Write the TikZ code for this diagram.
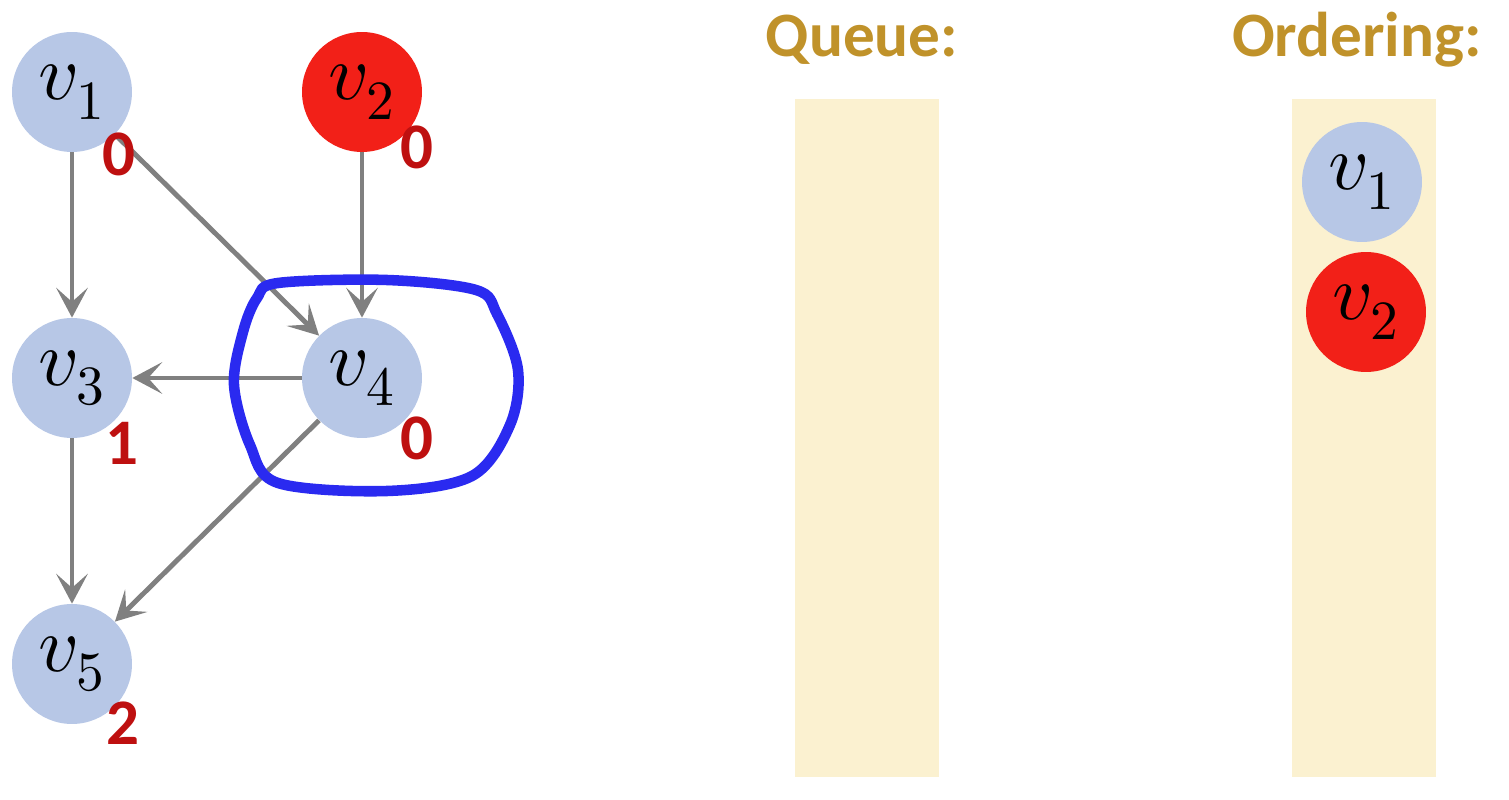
\documentclass[tikz,border=0pt]{standalone}
\usepackage{fontspec}
\usepackage{unicode-math}
\setmathfont{Latin Modern Math}
\setsansfont{Carlito}
\usetikzlibrary{arrows.meta}
\definecolor{nodeblue}{RGB}{183,199,230}
\definecolor{nodered}{RGB}{242,32,24}
\definecolor{degred}{RGB}{190,16,16}
\definecolor{edgegray}{RGB}{128,128,128}
\definecolor{titlegold}{RGB}{192,146,42}
\definecolor{boxcream}{RGB}{251,241,208}
\definecolor{loopblue}{RGB}{42,42,240}
\begin{document}
\begin{tikzpicture}[x=0.02cm,y=-0.02cm,
  vert/.style={circle,minimum size=2.4cm,inner sep=0pt,fill=nodeblue,font=\fontsize{45}{50}\selectfont},
  redvert/.style={vert,fill=nodered},
  deg/.style={text=degred,font=\sffamily\bfseries\fontsize{37}{40}\selectfont,inner sep=0pt},
  edge/.style={draw=edgegray,line width=2.8pt,-{Stealth[length=17pt,width=18pt,inset=8pt]}},
  title/.style={text=titlegold,font=\sffamily\bfseries\fontsize{36}{40}\selectfont,inner sep=0pt,anchor=base},
  qbox/.style={fill=boxcream,draw=none,inner sep=0pt,minimum width=2.88cm,minimum height=13.56cm},
  loop/.style={draw=loopblue,line width=6pt}]
\useasboundingbox (0,0) rectangle (1509,800);
% boxes
\node[qbox] (queue) at (867,438) {};
\node[qbox] (order) at (1364,438) {};
\node[title] (qt) at (862,57) {Queue:};
\node[title] (ot) at (1357,57) {Ordering:};
% graph nodes
\node[vert] (v1) at (72,92) {$v_1$};
\node[redvert] (v2) at (362,92) {$v_2$};
\node[vert] (v3) at (72,378) {$v_3$};
\node[vert] (v4) at (362,378) {$v_4$};
\node[vert] (v5) at (72,664) {$v_5$};
% edges
\draw[edge] (v1) -- (v3);
\draw[edge] (v1) -- (v4);
\draw[edge] (v2) -- (v4);
\draw[edge] (v4) -- (v3);
\draw[edge] (v3) -- (v5);
\draw[edge] (v4) -- (v5);
% highlight loop
\draw[loop] plot[smooth cycle,tension=0.55] coordinates {(278,283) (387,280) (476,290) (497,314) (518,370) (510,425) (472,476) (387,491) (278,483) (250,445) (234,385) (243,332) (257,298)};
% in-degree labels
\node[deg] (d1) at (119,154) {0};
\node[deg] (d2) at (417,147) {0};
\node[deg] (d3) at (122,443) {1};
\node[deg] (d4) at (417,438) {0};
\node[deg] (d5) at (123,723) {2};
% ordering
\node[vert] (o1) at (1362,182) {$v_1$};
\node[redvert] (o2) at (1366,312) {$v_2$};
\end{tikzpicture}
\end{document}
